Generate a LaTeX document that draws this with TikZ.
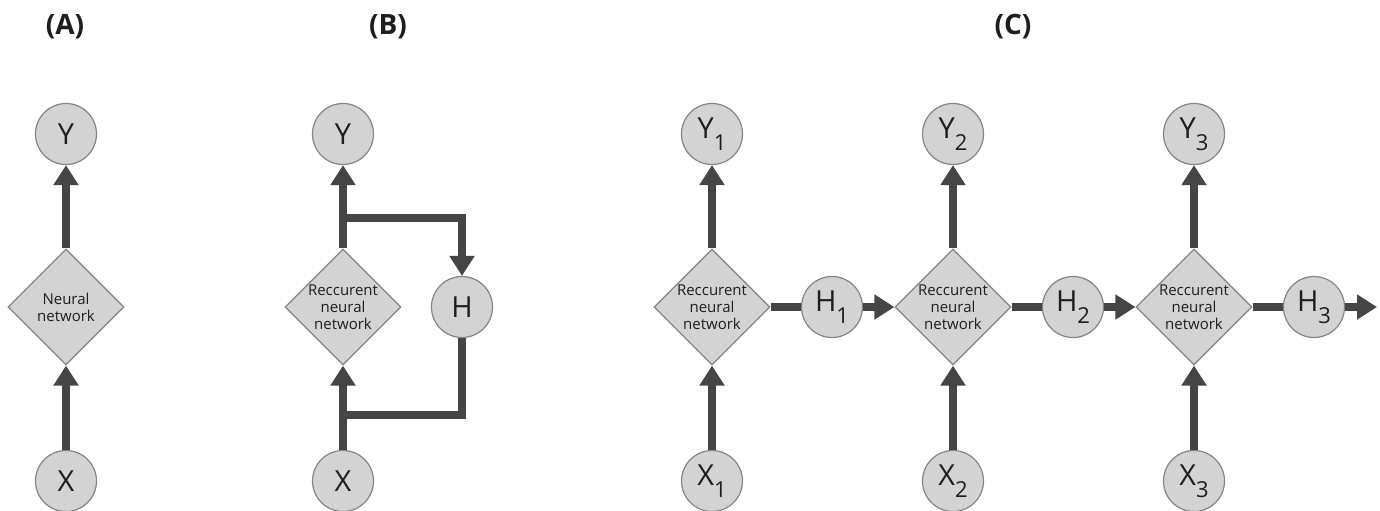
\documentclass[tikz,border=0pt]{standalone}
\usepackage{fontspec}
\setmainfont{Open Sans}
\usetikzlibrary{shapes.geometric,arrows.meta}
\definecolor{nodegray}{HTML}{D3D3D3}
\definecolor{bordergray}{HTML}{858585}
\definecolor{arrowgray}{HTML}{454545}
\definecolor{txt}{HTML}{1E1E1E}
\newcommand\subtx[1]{\raisebox{-0.8ex}{\fontsize{11}{12}\selectfont #1}}
\begin{document}
\begin{tikzpicture}[x=0.5pt,y=-0.5pt,
 circ/.style={circle,draw=bordergray,fill=nodegray,line width=0.6pt,minimum size=30.5pt,inner sep=0pt,text=txt,font=\fontsize{14.5}{16}\selectfont},
 dia/.style={diamond,draw=bordergray,fill=nodegray,line width=0.6pt,minimum width=58pt,minimum height=58pt,inner sep=0pt,align=center,text=txt,font=\fontsize{7.5}{8.6}\selectfont},
 arr/.style={draw=arrowgray,line width=4pt,-{Triangle[width=12pt,length=10pt]}},
 ln/.style={draw=arrowgray,line width=4pt},
 lab/.style={text=txt,font=\bfseries\fontsize{14}{16}\selectfont}]
\useasboundingbox (0,0) rectangle (1380,510);
% (A)
\node[lab] (labA) at (65,27) {(A)};
\node[circ] (aY) at (66,134) {Y};
\node[dia] (aN) at (66,307) {Neural\\network};
\node[circ] (aX) at (66,481) {X};
\draw[arr] (aX) -- (aN);
\draw[arr] (aN) -- (aY);
% (B)
\node[lab] (labB) at (388,27) {(B)};
\node[circ] (bY) at (343,134) {Y};
\node[dia] (bN) at (343,307) {Reccurent\\neural\\network};
\node[circ] (bX) at (343,481) {X};
\node[circ] (bH) at (462,307) {H};
\draw[arr] (bX) -- (bN);
\draw[arr] (bN) -- (bY);
\coordinate (bt) at (341,218);
\coordinate (bb) at (341,415);
\draw[arr] (bt) -| (bH);
\draw[ln] (bH) |- (bb);
% (C)
\node[lab] (labC) at (1013,27) {(C)};
\foreach \i/\x in {1/712,2/953,3/1194}{
  \node[circ] (cY\i) at (\x,134) {Y\subtx{\i}};
  \node[dia] (cN\i) at (\x,307) {Reccurent\\neural\\network};
  \node[circ] (cX\i) at (\x,481) {X\subtx{\i}};
  \node[circ] (cH\i) at (\x+120,307) {H\subtx{\i}};
  \draw[arr] (cX\i) -- (cN\i);
  \draw[arr] (cN\i) -- (cY\i);
  \draw[ln] (cN\i) -- (cH\i);
}
\coordinate (cend) at (1377,307);
\draw[arr] (cH1) -- (cN2);
\draw[arr] (cH2) -- (cN3);
\draw[arr] (cH3) -- (cend);
\end{tikzpicture}
\end{document}
